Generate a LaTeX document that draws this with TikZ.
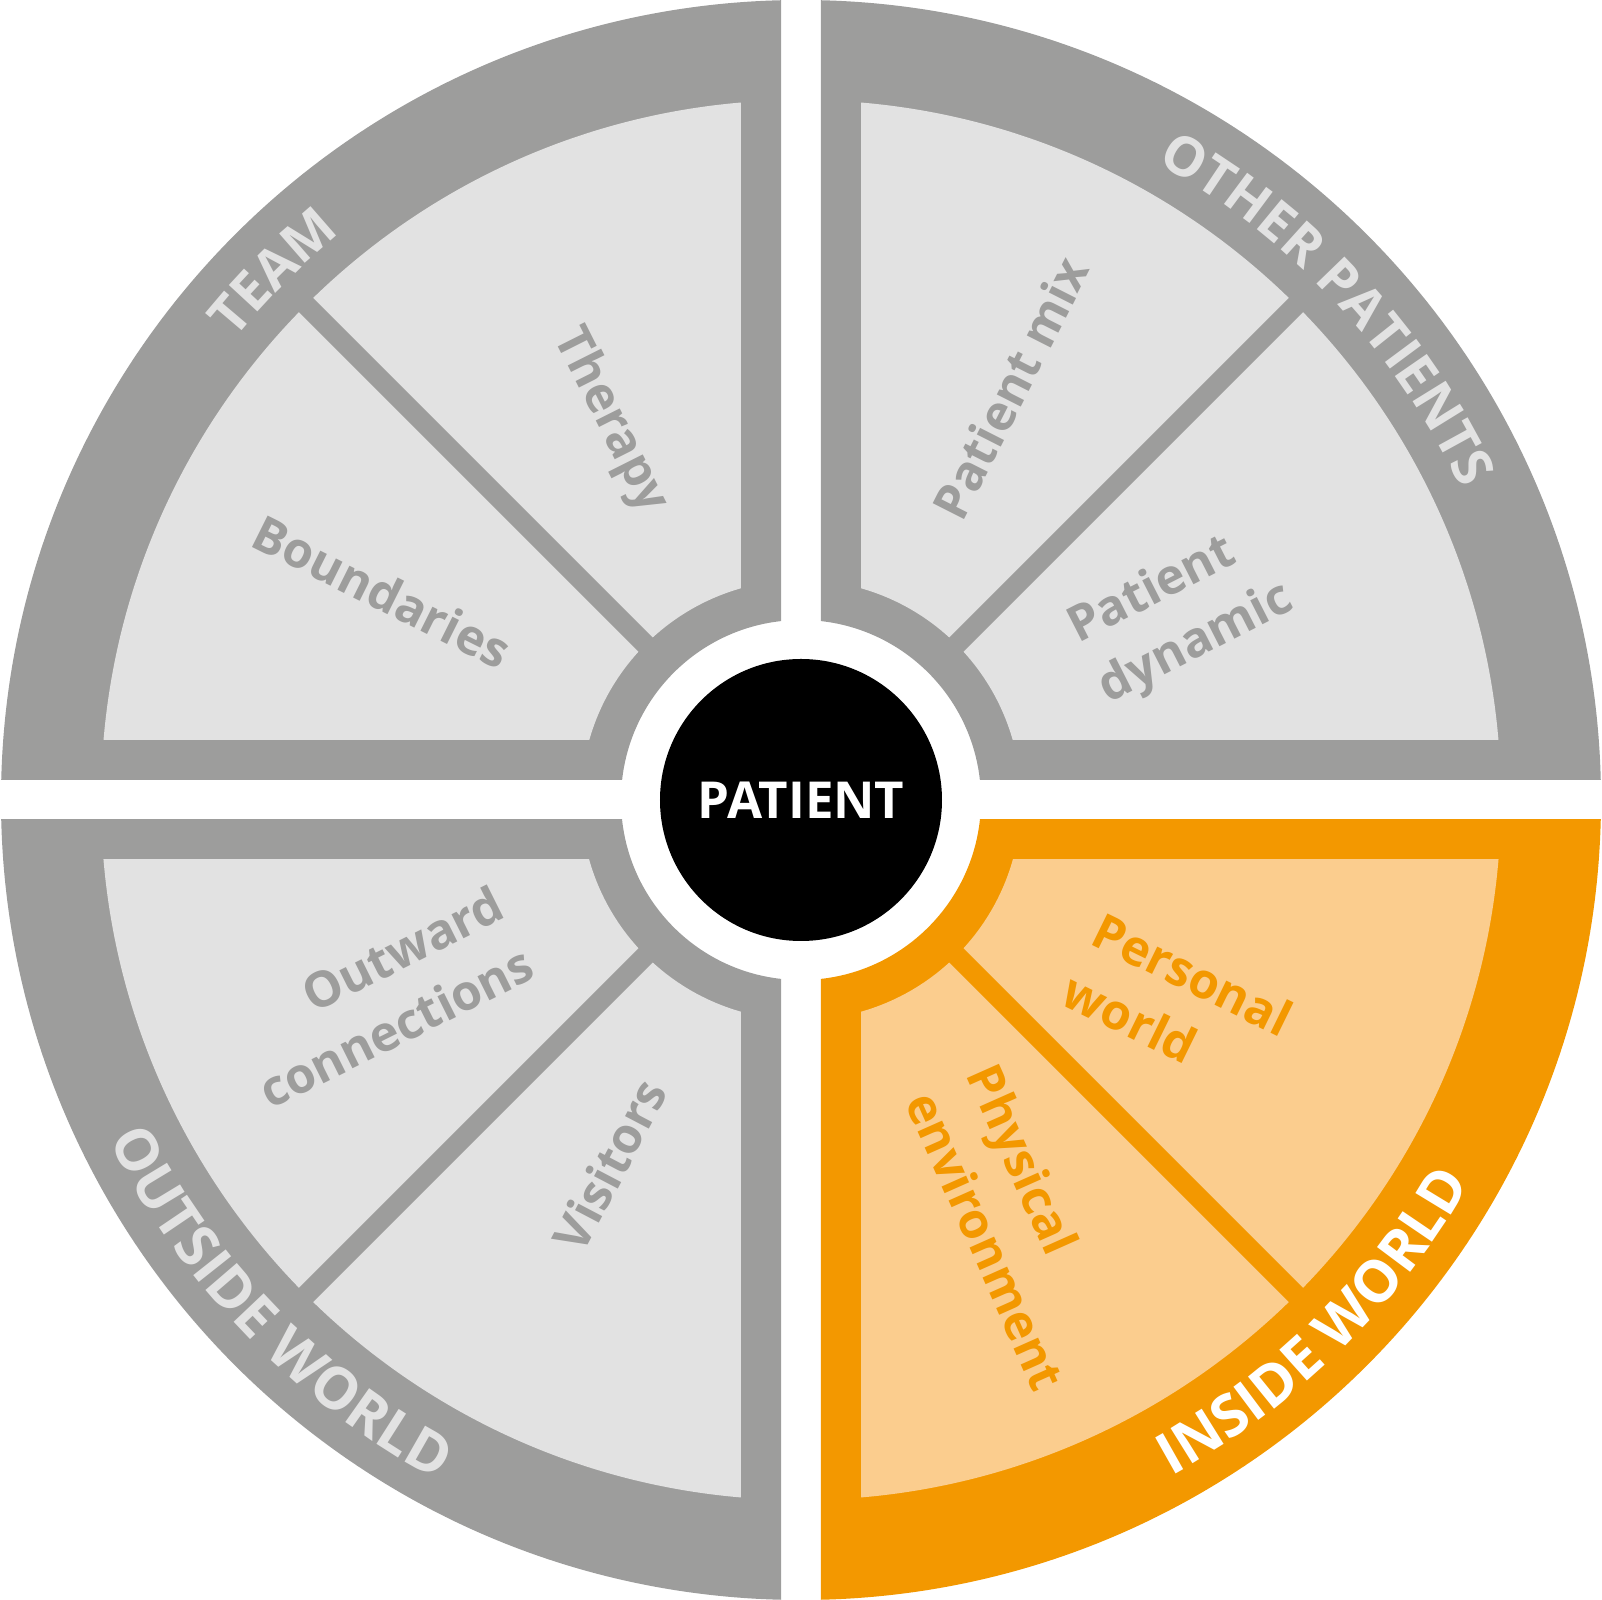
\documentclass[tikz,border=0pt]{standalone}
\usepackage{fontspec}
\setmainfont{Open Sans}
\usepackage{tikz}
\usetikzlibrary{decorations.text}
\definecolor{myband}{RGB}{157,157,156}
\definecolor{mylight}{RGB}{226,226,226}
\definecolor{myorange}{RGB}{243,152,0}
\definecolor{mypeach}{RGB}{251,205,142}
\newcommand{\ringfont}{\bfseries\fontsize{16.5}{18}\selectfont}
\newcommand{\topringfont}{\bfseries\fontsize{15.5}{18}\selectfont}
\tikzset{
  hub/.style={circle, fill=black, minimum size=2.82cm, inner sep=0pt,
    text=white, font=\bfseries\fontsize{14.5}{16}\selectfont},
  inlabel/.style={font=\bfseries\fontsize{14}{19}\selectfont,
    text=myband, inner sep=0pt},
  orlabel/.style={inlabel, text=myorange},
  divider/.style={line width=0.2cm, line cap=butt},
  ringtext/.style={decorate, decoration={text along path,
    text align=center, text color=#1}}
}

\begin{document}
\begin{tikzpicture}
  \useasboundingbox (-8.01,-8) rectangle (8.01,8);

  % Quadrants: outer band, inner field, divider
  \foreach \sx/\sy/\bandc/\fillc in {-1/1/myband/mylight, 1/1/myband/mylight,
      -1/-1/myband/mylight, 1/-1/myorange/mypeach}{
    \begin{scope}
      \clip (\sx*0.2,\sy*0.2) rectangle (\sx*8.1,\sy*8.1);
      \fill[\bandc, even odd rule] (0,0) circle (8) (0,0) circle (1.8);
    \end{scope}
    \begin{scope}
      \clip (\sx*0.6,\sy*0.6) rectangle (\sx*8.1,\sy*8.1);
      \fill[\fillc, even odd rule] (0,0) circle (7) (0,0) circle (2.2);
    \end{scope}
    \draw[divider, \bandc] (\sx*1.414,\sy*1.414) -- (\sx*5.3,\sy*5.3);
  }

  % Patient
  \node[hub] (patient) at (0,0) {PATIENT};

  % Ring labels
  \path[ringtext=mylight, decoration={text={|\topringfont|TEAM}}]
    (160:7.3) arc (160:110:7.3);
  \path[ringtext=mylight, decoration={text={|\topringfont|OTHER PATIENTS}}]
    (68:7.3) arc (68:18:7.3);
  \path[ringtext=mylight, decoration={text={|\ringfont|OUTSIDE WORLD}}]
    (199:7.71) arc (199:249:7.71);
  \path[ringtext=white, decoration={text={|\ringfont|INSIDE WORLD}}]
    (-70.5:7.71) arc (-70.5:-20.5:7.71);

  % Team
  \node[inlabel, rotate=-63.3] (therapy) at (116.7:4.25) {Therapy};
  \node[inlabel, rotate=-26.5] (bound) at (153.5:4.68) {Boundaries};

  % Other patients
  \node[inlabel, rotate=63.1] (mix) at (63.1:4.62) {Patient mix};
  \node[inlabel, rotate=27, align=left] (dyn) at (26:4.23) {Patient\\dynamic};

  % Outside world
  \node[inlabel, rotate=26.5, align=right] (outward) at (-4.2,-1.97) {Outward\\connections};
  \node[inlabel, rotate=62.3] (visitors) at (242.3:4.12) {Visitors};

  % Inside world
  \node[orlabel, rotate=-26.1, align=left] (personal) at (3.77,-2.04) {Personal\\world};
  \node[orlabel, rotate=-66, align=left] (physical) at (2.16,-4.27) {Physical\\environment};
\end{tikzpicture}
\end{document}
